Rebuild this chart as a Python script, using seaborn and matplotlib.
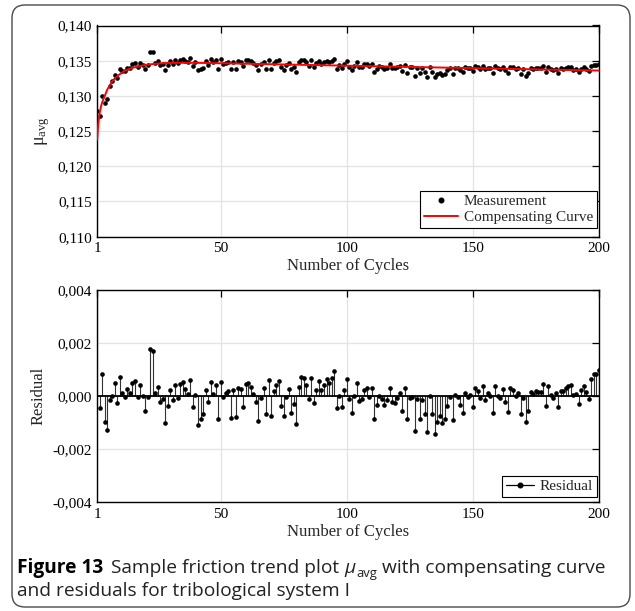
import numpy as np
import pandas as pd
import matplotlib
matplotlib.use('Agg')
import matplotlib.pyplot as plt
import seaborn as sns
from matplotlib.lines import Line2D
from matplotlib.patches import FancyBboxPatch
from matplotlib.ticker import FuncFormatter, FixedLocator

# ---------------- data ----------------
cycles = np.arange(1, 201)

# compensating curve, read at selected cycles
curve_x = [1, 1.25, 1.5, 2, 2.5, 3, 4, 5, 6, 7, 8, 10, 12, 15, 20, 25, 30, 40, 60, 100, 150, 200]
curve_y = [0.1238, 0.1252, 0.1262, 0.1276, 0.1285, 0.1291, 0.1300, 0.1309, 0.1315, 0.1321,
           0.1325, 0.1331, 0.1336, 0.1340, 0.1344, 0.1346, 0.1347, 0.1347, 0.13457, 0.13429,
           0.13394, 0.1336]

# residuals (measurement - compensating curve), cycles 1..200
residual = [
    0.0041, -0.00043, 0.00086, -0.00096, -0.00128, -0.00015, 0.00002, 0.00052, -0.00024, 0.00073,
    0.00014, -0.00004, 0.00026, 0.00013, 0.00052, 0.00058, -0.00003, 0.00044, 0.0, -0.00056,
    -0.00004, 0.00179, 0.00172, 0.00011, 0.00034, -0.00021, -0.0001, -0.00102, -0.00035, 0.00023,
    -0.00013, 0.00044, -0.00005, 0.00047, 0.00053, 0.00026, 0.0001, 0.00063, -0.00042, 0.00005,
    -0.00107, -0.00087, -0.00068, 0.00022, -0.00023, 0.00053, 0.00009, 0.00044, -0.00086, 0.00055,
    -0.00004, 0.00011, 0.0002, -0.00081, 0.00025, -0.00078, 0.0003, 0.00027, -0.0004, 0.00047,
    0.00052, 0.00034, 0.0001, -0.0002, -0.00092, -0.00005, 0.0003, -0.00065, 0.00063, -0.00073,
    0.00019, 0.00043, 0.00058, -0.00035, -0.00075, -0.00001, 0.00028, -0.00062, -0.0003, -0.00103,
    0.00035, 0.00073, 0.00068, 0.00042, -0.00009, 0.0007, -0.00025, 0.00023, 0.00057, 0.00023,
    0.00043, 0.00065, 0.00049, 0.00068, 0.00096, -0.00045, 0.00001, -0.0004, 0.00025, 0.00067,
    -0.00011, -0.00063, 0.0, 0.00052, -0.00016, -0.0001, 0.00024, 0.0003, -0.00002, 0.00031,
    -0.00084, -0.00033, 0.0, -0.0001, -0.00031, -0.00015, 0.00032, -0.0002, -0.00025, -0.00008,
    0.00012, -0.00057, 0.00032, -0.00084, -0.00008, -0.00001, -0.0013, -0.0001, -0.00087, -0.00014,
    -0.00068, -0.00136, 0.0, -0.00065, -0.00141, -0.00097, -0.00075, -0.001, -0.00086, -0.00038,
    -0.00003, -0.00091, 0.00004, -0.00001, -0.00034, -0.00062, 0.00011, -0.00001, 0.00006, -0.0004,
    0.00033, 0.0002, -0.00008, 0.0004, -0.00014, 0.00011, 0.0, -0.00064, 0.00038, 0.00003,
    -0.00005, 0.00028, -0.0002, -0.00059, 0.00033, 0.00024, 0.00001, 0.00014, -0.00067, -0.00005,
    -0.00097, -0.00055, 0.00018, 0.00009, 0.00019, 0.00016, 0.00015, 0.00048, -0.00035, 0.00039,
    0.00005, -0.00005, 0.00014, -0.00039, 0.00021, 0.00019, 0.00033, 0.00038, 0.00044, 0.00006,
    0.00009, -0.0003, 0.00024, 0.0004, 0.00015, -0.0001, 0.00064, 0.00083, 0.00083, 0.00099,
]

top_yticks = [0.110, 0.115, 0.120, 0.125, 0.130, 0.135, 0.140]
bot_yticks = [-0.004, -0.002, 0.0, 0.002, 0.004]
xticks = [1, 50, 100, 150, 200]

curve_df = pd.DataFrame({'cycle': curve_x, 'mu': curve_y})
meas_df = pd.DataFrame({'cycle': cycles,
                        'mu': np.interp(cycles, curve_x, curve_y) + np.array(residual),
                        'res': residual})

# ---------------- style ----------------
sns.set_style('white')
plt.rcParams['font.family'] = ['Liberation Serif', 'DejaVu Serif']
plt.rcParams['mathtext.fontset'] = 'custom'
plt.rcParams['mathtext.rm'] = 'Liberation Serif'
plt.rcParams['mathtext.it'] = 'Liberation Serif:italic'

W, H = 635, 611
fig = plt.figure(figsize=(W / 100, H / 100), dpi=100)

def px_axes(x0, y0, x1, y1):
    return fig.add_axes([x0 / W, 1 - y1 / H, (x1 - x0) / W, (y1 - y0) / H])

ax1 = px_axes(97.2, 25.5, 598.7, 236.7)
ax2 = px_axes(97.2, 290.3, 598.7, 502.3)

comma = lambda v, p: f'{v:.3f}'.replace('.', ',')

for ax in (ax1, ax2):
    ax.set_xlim(1, 200)
    ax.xaxis.set_major_locator(FixedLocator(xticks))
    ax.grid(True, color='#e3e3e3', lw=0.9)
    ax.set_axisbelow(True)
    ax.tick_params(direction='in', length=5, width=0.9, top=True, right=True,
                   labelsize=11, colors='black', pad=4)
    for s in ax.spines.values():
        s.set_color('black')
        s.set_linewidth(1.0)
    ax.set_xlabel('Number of Cycles', fontsize=12, labelpad=2)

# ---- top panel ----
sns.scatterplot(data=meas_df, x='cycle', y='mu', ax=ax1, color='black', s=11,
                edgecolor='black', linewidth=0, zorder=3, legend=False)
sns.lineplot(data=curve_df, x='cycle', y='mu', ax=ax1, color='#ff0000', lw=1.4,
             zorder=4, legend=False)
ax1.set_ylim(0.110, 0.140)
ax1.yaxis.set_major_locator(FixedLocator(top_yticks))
ax1.yaxis.set_major_formatter(FuncFormatter(comma))
ax1.set_ylabel(r'$\mathrm{\mu}_{\mathrm{avg}}$', fontsize=13, labelpad=4)
h1 = [Line2D([], [], color='black', marker='o', markersize=3.3, lw=0),
      Line2D([], [], color='#ff0000', lw=1.4)]
ax1.legend(h1, ['Measurement', 'Compensating Curve'], loc='lower right',
           bbox_to_anchor=(0.9966, 0.041), fontsize=11,
           frameon=True, fancybox=False, edgecolor='black', framealpha=1,
           borderpad=0.25, handlelength=2.2, handletextpad=0.4, labelspacing=0.15,
           borderaxespad=0.0).get_frame().set_linewidth(0.8)

# ---- bottom panel ----
ax2.vlines(meas_df['cycle'], 0, meas_df['res'], color='#333333', lw=0.8, zorder=2)
ax2.axhline(0, color='black', lw=1.3, zorder=2.5)
sns.scatterplot(data=meas_df, x='cycle', y='res', ax=ax2, color='black', s=11,
                edgecolor='black', linewidth=0, zorder=3, legend=False)
ax2.set_ylim(-0.004, 0.004)
ax2.yaxis.set_major_locator(FixedLocator(bot_yticks))
ax2.yaxis.set_major_formatter(FuncFormatter(comma))
ax2.set_ylabel('Residual', fontsize=12, labelpad=4)
h2 = [Line2D([], [], color='black', marker='o', markersize=3.3, lw=0.9)]
ax2.legend(h2, ['Residual'], loc='lower right', bbox_to_anchor=(0.9966, 0.025),
           fontsize=11, frameon=True,
           fancybox=False, edgecolor='black', framealpha=1, borderpad=0.25,
           handlelength=1.8, handletextpad=0.4,
           borderaxespad=0.0).get_frame().set_linewidth(0.8)

# ---- frame ----
frame = FancyBboxPatch((0.12, 0.04), 6.18, 6.02,
                       boxstyle='round,pad=0,rounding_size=0.13',
                       transform=fig.dpi_scale_trans, fill=False,
                       edgecolor='#4a4a4a', lw=1.0)
fig.patches.append(frame)

# ---- caption ----
cap_font = 'Open Sans'
cap_size = 13.8
fig.canvas.draw()
renderer = fig.canvas.get_renderer()

def put(x_px, y_px, s, **kw):
    t = fig.text(x_px / W, 1 - y_px / H, s, family=cap_font, va='baseline', **kw)
    return t.get_window_extent(renderer).x1

base1, base2 = 573, 596
x = put(17, base1, 'Figure 13', fontsize=cap_size, fontweight='bold', color='black')
x = put(x + 8, base1, 'Sample friction trend plot ', fontsize=cap_size, color='#222222')
x = put(x, base1, 'μ', fontsize=cap_size, style='italic', color='#222222')
x = put(x + 0.5, base1 + 4, 'avg', fontsize=cap_size * 0.68, color='#222222')
x = put(x, base1, ' with compensating curve', fontsize=cap_size, color='#222222')
put(17, base2, 'and residuals for tribological system I', fontsize=cap_size, color='#222222')

fig.savefig('out.png', dpi=100)
